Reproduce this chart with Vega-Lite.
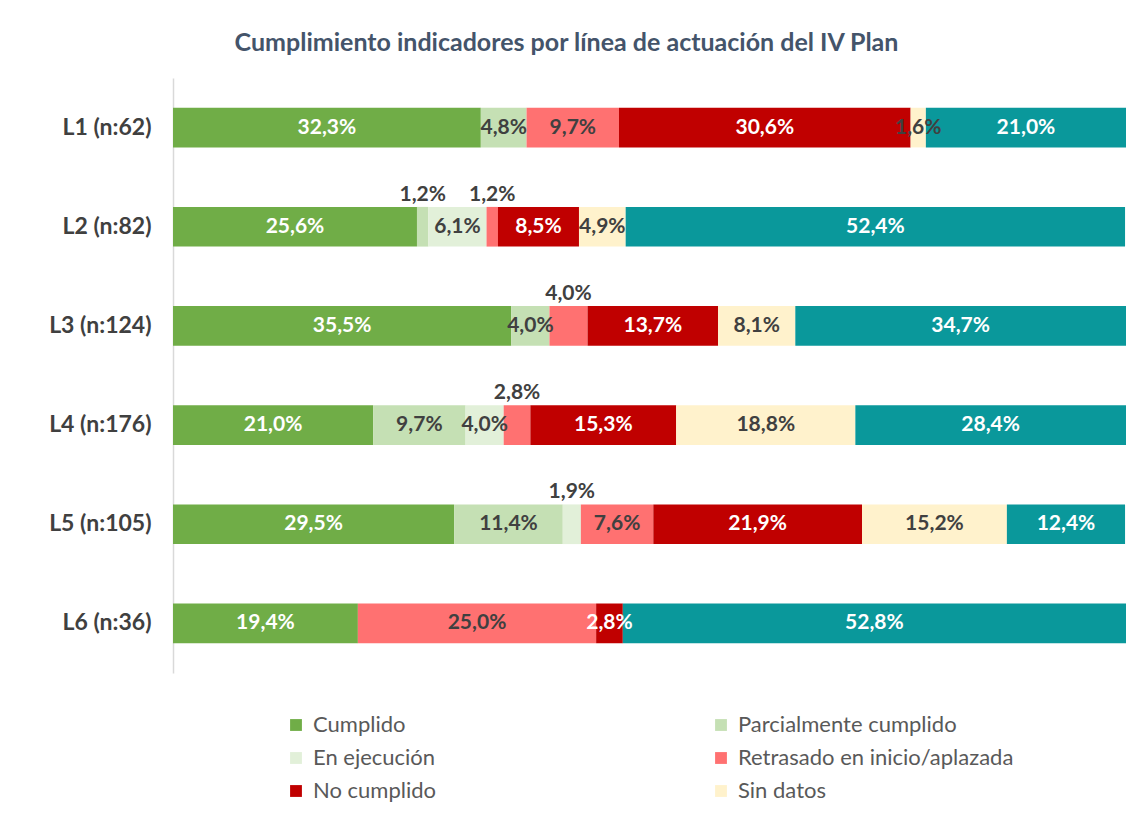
{
  "$schema": "https://vega.github.io/schema/vega-lite/v6.json",
  "width": 953,
  "height": 595,
  "autosize": {"type": "none"},
  "padding": {"left": 173, "top": 78, "right": 0, "bottom": 146},
  "background": "white",
  "title": {
    "text": "Cumplimiento indicadores por línea de actuación del IV Plan",
    "anchor": "middle",
    "dx": -83,
    "offset": 22,
    "font": "Lato",
    "fontSize": 25,
    "fontWeight": "bold",
    "color": "#44546A"
  },
  "config": {
    "view": {"stroke": null},
    "locale": {"number": {"decimal": ",", "thousands": ".", "grouping": [3], "currency": ["", " €"]}}
  },
  "data": {
    "values": [
      {"linea": "L1 (n:62)", "cat": "Cumplido", "valor": 32.3},
      {"linea": "L1 (n:62)", "cat": "Parcialmente cumplido", "valor": 4.8},
      {"linea": "L1 (n:62)", "cat": "Retrasado en inicio/aplazada", "valor": 9.7},
      {"linea": "L1 (n:62)", "cat": "No cumplido", "valor": 30.6},
      {"linea": "L1 (n:62)", "cat": "Sin datos", "valor": 1.6},
      {"linea": "L1 (n:62)", "cat": "Otros", "valor": 21.0},
      {"linea": "L2 (n:82)", "cat": "Cumplido", "valor": 25.6},
      {"linea": "L2 (n:82)", "cat": "Parcialmente cumplido", "valor": 1.2},
      {"linea": "L2 (n:82)", "cat": "En ejecución", "valor": 6.1},
      {"linea": "L2 (n:82)", "cat": "Retrasado en inicio/aplazada", "valor": 1.2},
      {"linea": "L2 (n:82)", "cat": "No cumplido", "valor": 8.5},
      {"linea": "L2 (n:82)", "cat": "Sin datos", "valor": 4.9},
      {"linea": "L2 (n:82)", "cat": "Otros", "valor": 52.4},
      {"linea": "L3 (n:124)", "cat": "Cumplido", "valor": 35.5},
      {"linea": "L3 (n:124)", "cat": "Parcialmente cumplido", "valor": 4.0},
      {"linea": "L3 (n:124)", "cat": "Retrasado en inicio/aplazada", "valor": 4.0},
      {"linea": "L3 (n:124)", "cat": "No cumplido", "valor": 13.7},
      {"linea": "L3 (n:124)", "cat": "Sin datos", "valor": 8.1},
      {"linea": "L3 (n:124)", "cat": "Otros", "valor": 34.7},
      {"linea": "L4 (n:176)", "cat": "Cumplido", "valor": 21.0},
      {"linea": "L4 (n:176)", "cat": "Parcialmente cumplido", "valor": 9.7},
      {"linea": "L4 (n:176)", "cat": "En ejecución", "valor": 4.0},
      {"linea": "L4 (n:176)", "cat": "Retrasado en inicio/aplazada", "valor": 2.8},
      {"linea": "L4 (n:176)", "cat": "No cumplido", "valor": 15.3},
      {"linea": "L4 (n:176)", "cat": "Sin datos", "valor": 18.8},
      {"linea": "L4 (n:176)", "cat": "Otros", "valor": 28.4},
      {"linea": "L5 (n:105)", "cat": "Cumplido", "valor": 29.5},
      {"linea": "L5 (n:105)", "cat": "Parcialmente cumplido", "valor": 11.4},
      {"linea": "L5 (n:105)", "cat": "En ejecución", "valor": 1.9},
      {"linea": "L5 (n:105)", "cat": "Retrasado en inicio/aplazada", "valor": 7.6},
      {"linea": "L5 (n:105)", "cat": "No cumplido", "valor": 21.9},
      {"linea": "L5 (n:105)", "cat": "Sin datos", "valor": 15.2},
      {"linea": "L5 (n:105)", "cat": "Otros", "valor": 12.4},
      {"linea": "L6 (n:36)", "cat": "Cumplido", "valor": 19.4},
      {"linea": "L6 (n:36)", "cat": "Retrasado en inicio/aplazada", "valor": 25.0},
      {"linea": "L6 (n:36)", "cat": "No cumplido", "valor": 2.8},
      {"linea": "L6 (n:36)", "cat": "Otros", "valor": 52.8}
    ]
  },
  "transform": [
    {"calculate": "indexof(['Cumplido','Parcialmente cumplido','En ejecución','Retrasado en inicio/aplazada','No cumplido','Sin datos','Otros'], datum.cat)", "as": "orden"},
    {"stack": "valor", "groupby": ["linea"], "sort": [{"field": "orden", "order": "ascending"}], "as": ["x0", "x1"]},
    {"calculate": "(datum.x0 + datum.x1) / 2", "as": "mid"},
    {"calculate": "datum.valor / 100", "as": "p"},
    {"calculate": "indexof(['L2 (n:82)|Parcialmente cumplido','L2 (n:82)|Retrasado en inicio/aplazada','L3 (n:124)|Retrasado en inicio/aplazada','L4 (n:176)|Retrasado en inicio/aplazada','L5 (n:105)|En ejecución'], datum.linea + '|' + datum.cat) >= 0", "as": "arriba"}
  ],
  "encoding": {
    "y": {
      "field": "linea",
      "type": "nominal",
      "sort": ["L1 (n:62)", "L2 (n:82)", "L3 (n:124)", "L4 (n:176)", "L5 (n:105)", "L6 (n:36)"],
      "scale": {"paddingInner": 0.6, "paddingOuter": 0.3},
      "axis": {
        "title": null,
        "ticks": false,
        "domainColor": "#D9D9D9",
        "domainWidth": 1.5,
        "labelFont": "Lato",
        "labelFontSize": 23,
        "labelFontWeight": "bold",
        "labelColor": "#404040",
        "labelPadding": 22
      }
    }
  },
  "layer": [
    {
      "mark": {"type": "bar"},
      "encoding": {
        "x": {"field": "x0", "type": "quantitative", "scale": {"domain": [0, 100], "nice": false}, "axis": null},
        "x2": {"field": "x1"},
        "color": {
          "field": "cat",
          "type": "nominal",
          "scale": {
            "domain": ["Cumplido", "Parcialmente cumplido", "En ejecución", "Retrasado en inicio/aplazada", "No cumplido", "Sin datos", "Otros"],
            "range": ["#70AD47", "#C5E0B4", "#E2F0D9", "#FF7171", "#C00000", "#FFF2CC", "#0A989B"]
          },
          "legend": {
            "title": null,
            "values": ["Cumplido", "Parcialmente cumplido", "En ejecución", "Retrasado en inicio/aplazada", "No cumplido", "Sin datos"],
            "orient": "none",
            "direction": "horizontal",
            "legendX": 112,
            "legendY": 636,
            "columns": 2,
            "columnPadding": 273,
            "rowPadding": 11,
            "symbolType": "square",
            "symbolSize": 140,
            "symbolStrokeWidth": 0,
            "labelFont": "Lato",
            "labelFontSize": 22,
            "labelColor": "#595959",
            "labelOffset": 6,
            "labelLimit": 400
          }
        }
      }
    },
    {
      "transform": [{"filter": "!datum.arriba"}],
      "mark": {"type": "text", "font": "Lato", "fontSize": 21, "fontWeight": "bold", "baseline": "middle"},
      "encoding": {
        "x": {"field": "mid", "type": "quantitative"},
        "text": {"field": "p", "type": "quantitative", "format": ".1%"},
        "color": {
          "condition": {"test": "indexof(['Cumplido','No cumplido','Otros'], datum.cat) >= 0", "value": "white"},
          "value": "#404040"
        }
      }
    },
    {
      "transform": [{"filter": "datum.arriba"}],
      "mark": {"type": "text", "font": "Lato", "fontSize": 21, "fontWeight": "bold", "baseline": "middle", "dy": -32, "color": "#404040"},
      "encoding": {
        "x": {"field": "mid", "type": "quantitative"},
        "text": {"field": "p", "type": "quantitative", "format": ".1%"}
      }
    }
  ]
}
